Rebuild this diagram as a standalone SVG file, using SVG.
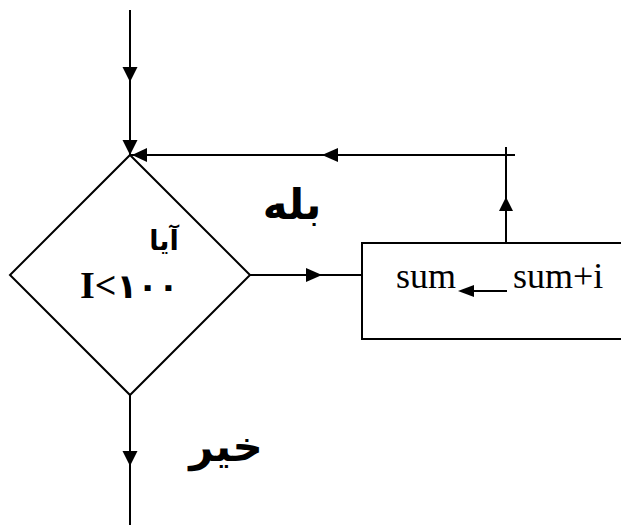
<svg xmlns="http://www.w3.org/2000/svg" width="621" height="529" viewBox="0 0 621 529">
<style>
.ln{stroke:#000;stroke-width:2;fill:none}
.ah{fill:#000;stroke:none}
.lat{font-family:"Liberation Serif",serif;fill:#000}
.ar{font-family:"DejaVu Sans","Noto Sans",sans-serif;font-weight:bold;fill:#000}
</style>
<rect width="621" height="529" fill="#fff"/>
<g id="decision">
<polygon class="ln" points="130,155 250,275 130,395 10,275"/>
<text class="ar" x="164" y="250" font-size="27" text-anchor="middle" direction="rtl">آیا</text>
<text x="80" y="298" direction="ltr"><tspan class="lat" font-size="38" font-weight="bold">I&lt;</tspan><tspan class="ar" font-size="34">۱۰۰</tspan></text>
</g>
<g id="process">
<polyline class="ln" points="621,243 362,243 362,339 621,339"/>
<text class="lat" x="396" y="288" font-size="36">sum</text>
<text class="lat" x="513" y="288" font-size="36">sum+i</text>
<line class="ln" x1="507" y1="291" x2="470" y2="291"/>
<polygon class="ah" points="458,291 474,285 474,297"/>
</g>
<g id="labels">
<text class="ar" x="292" y="219" font-size="42" text-anchor="middle" direction="rtl">بله</text>
<text class="ar" x="226" y="461" font-size="42" text-anchor="middle" direction="rtl">خیر</text>
</g>
<g id="connectors">
<line class="ln" x1="130" y1="10" x2="130" y2="155"/>
<polygon class="ah" points="130,82 122.5,67 137.5,67"/>
<polygon class="ah" points="130,155 122.5,140 137.5,140"/>
<line class="ln" x1="130" y1="155" x2="515" y2="155"/>
<polygon class="ah" points="132,155 147,148 147,162"/>
<polygon class="ah" points="322,155 338,148 338,162"/>
<line class="ln" x1="506" y1="147" x2="506" y2="243"/>
<polygon class="ah" points="506,197 499,211 513,211"/>
<line class="ln" x1="250" y1="275" x2="362" y2="275"/>
<polygon class="ah" points="322,275 306,268 306,282"/>
<line class="ln" x1="130" y1="395" x2="130" y2="525"/>
<polygon class="ah" points="130,466 122.5,451 137.5,451"/>
</g>
</svg>
